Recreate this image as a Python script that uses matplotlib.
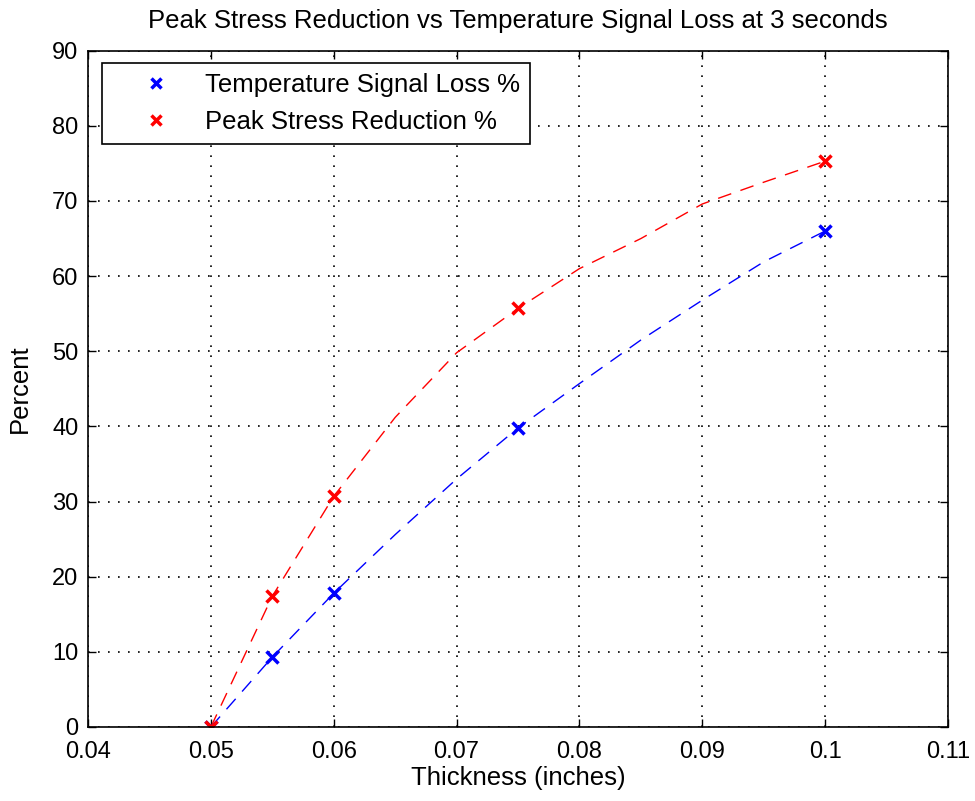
import matplotlib
matplotlib.use('Agg')
import matplotlib.pyplot as plt
from matplotlib.lines import Line2D

# measured points (markers)
thickness = [0.05, 0.055, 0.06, 0.075, 0.1]
temp_loss = [0.0, 9.3, 17.8, 39.8, 66.0]
stress_red = [0.0, 17.4, 30.7, 55.7, 75.3]

# dashed fit curves
curve_x = [0.05, 0.055, 0.06, 0.065, 0.07, 0.075, 0.08, 0.085, 0.09, 0.095, 0.1]
temp_curve = [0.0, 9.3, 17.8, 25.6, 33.0, 39.8, 45.7, 51.5, 56.8, 61.9, 66.0]
stress_curve = [0.0, 17.4, 30.7, 41.2, 49.8, 55.7, 61.0, 65.0, 69.6, 72.5, 75.3]

xtick_vals = [0.04, 0.05, 0.06, 0.07, 0.08, 0.09, 0.1, 0.11]
xtick_labels = ['0.04', '0.05', '0.06', '0.07', '0.08', '0.09', '0.1', '0.11']

plt.rcParams['font.family'] = ['Liberation Sans', 'DejaVu Sans']

fig = plt.figure(figsize=(9.75, 8.01), dpi=100)
ax = fig.add_axes([0.0903, 0.0924, 0.882, 0.8443])

ax.plot(curve_x, temp_curve, color='#0000ff', ls=(0, (10, 7)), lw=1.0)
ax.plot(curve_x, stress_curve, color='#ff0000', ls=(0, (10, 7)), lw=1.0)
ax.plot(thickness, temp_loss, ls='none', marker='x', ms=9, mew=2.5, color='#0000ff')
ax.plot(thickness, stress_red, ls='none', marker='x', ms=9, mew=2.5, color='#ff0000')

ax.set_xlim(0.04, 0.11)
ax.set_ylim(0, 90)
ax.set_xticks(xtick_vals)
ax.set_xticklabels(xtick_labels)
ax.set_yticks(range(0, 91, 10))
ax.tick_params(direction='in', length=6, width=1, labelsize=17, top=True, right=True)
ax.tick_params(axis='x', pad=10)
ax.tick_params(axis='y', pad=7)
ax.grid(True, color='black', ls=(0, (1, 5)), lw=1.2)
for s in ax.spines.values():
    s.set_linewidth(1.2)

ax.set_xlabel('Thickness (inches)', fontsize=18.5)
ax.xaxis.set_label_coords(0.5, -0.058)
ax.set_ylabel('Percent', fontsize=18.5)
ax.yaxis.set_label_coords(-0.065, 0.5)
fig.text(0.531, 0.974, 'Peak Stress Reduction vs Temperature Signal Loss at 3 seconds',
         ha='center', va='center', fontsize=18.5)

handles = [Line2D([], [], ls='none', marker='x', ms=7, mew=2.5, color='#0000ff'),
           Line2D([], [], ls='none', marker='x', ms=7, mew=2.5, color='#ff0000')]
leg = ax.legend(handles, ['Temperature Signal Loss %', 'Peak Stress Reduction %'],
                loc='upper left', fontsize=18.5, frameon=True, fancybox=False,
                edgecolor='black', borderpad=0.4, handlelength=3.4, handletextpad=0.2,
                labelspacing=0.5, borderaxespad=0, framealpha=1,
                bbox_to_anchor=(0.0162, 0.982))
leg.get_frame().set_linewidth(1.2)

fig.savefig('out.png', dpi=100)
